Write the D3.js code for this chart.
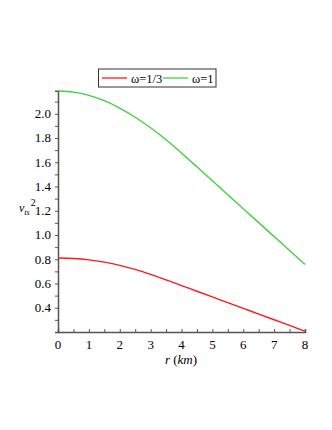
<!DOCTYPE html>
<html>
<head>
<meta charset="utf-8">
<script src="https://cdn.jsdelivr.net/npm/d3@7"></script>
<style>
  body { margin: 0; background: #fff; }
</style>
</head>
<body>
<div id="chart"></div>
<script>
// r values (km)
const radius = [0, 0.5, 1, 1.5, 2, 2.5, 3, 3.5, 4, 4.5, 5, 5.5, 6, 6.5, 7, 7.5, 8];

// v_ts^2 for omega = 1/3
const omegaThird = [0.81, 0.806, 0.795, 0.776, 0.75, 0.716, 0.675, 0.63, 0.583,
    0.536, 0.489, 0.442, 0.395, 0.348, 0.301, 0.254, 0.207];

// v_ts^2 for omega = 1
const omegaOne = [2.187, 2.178, 2.152, 2.108, 2.047, 1.971, 1.884, 1.785, 1.676,
    1.562, 1.447, 1.332, 1.217, 1.102, 0.987, 0.872, 0.757];

const seriesNames = ["ω=1/3", "ω=1"];
const xTicks = [0, 1, 2, 3, 4, 5, 6, 7, 8];
const yTicks = [0.4, 0.6, 0.8, 1.0, 1.2, 1.4, 1.6, 1.8, 2.0];

const W = 332, H = 430;
const LEFT = 58, RIGHT = 305, TOP = 90.7, BOTTOM = 332;
const AXIS_COLOR = "#555";
const COLORS = ["#ff1a1a", "#3fd23f"];
const FONT = "Liberation Serif";

const x = d3.scaleLinear().domain([0, 8]).range([LEFT, RIGHT]);
const y = d3.scaleLinear().domain([0.2, 2.19]).range([BOTTOM, TOP]);

const svg = d3.select("#chart").append("svg")
    .attr("width", W)
    .attr("height", H)
    .attr("font-family", FONT);

// x axis with minor ticks
const xAxis = svg.append("g").attr("transform", `translate(0,${BOTTOM})`);
xAxis.call(d3.axisTop(x).tickValues(d3.range(0, 8.01, 0.5)).tickSize(3).tickFormat(""));
xAxis.select(".domain").attr("stroke", AXIS_COLOR).attr("stroke-width", 1.5);
xAxis.selectAll(".tick line").attr("stroke", AXIS_COLOR);

svg.append("g").selectAll("text")
    .data(xTicks)
    .enter()
    .append("text")
    .attr("x", d => x(d))
    .attr("y", BOTTOM + 17)
    .attr("text-anchor", "middle")
    .attr("font-family", FONT)
    .attr("font-size", 13)
    .text(d => d);

// y axis with minor ticks
const yAxis = svg.append("g").attr("transform", `translate(${LEFT},0)`);
yAxis.call(d3.axisLeft(y).tickValues(d3.range(0.2, 2.15, 0.1)).tickSize(3).tickFormat(""));
yAxis.select(".domain").attr("stroke", AXIS_COLOR).attr("stroke-width", 1.5);
yAxis.selectAll(".tick line").attr("stroke", AXIS_COLOR);

svg.append("g").selectAll("text")
    .data(yTicks)
    .enter()
    .append("text")
    .attr("x", LEFT - 7)
    .attr("y", d => y(d) + 4.5)
    .attr("text-anchor", "end")
    .attr("font-family", FONT)
    .attr("font-size", 13)
    .text(d => d.toFixed(1));

// axis titles
const yTitle = svg.append("text")
    .attr("x", 19)
    .attr("y", 212)
    .attr("font-family", FONT)
    .attr("font-size", 12);
yTitle.append("tspan").attr("font-style", "italic").text("v");
yTitle.append("tspan").attr("font-style", "italic").attr("font-size", 8).attr("dy", 3).text("ts");
yTitle.append("tspan").attr("font-size", 10).attr("dx", 1).attr("dy", -9).text("2");

const xTitle = svg.append("text")
    .attr("x", 181)
    .attr("y", 363.5)
    .attr("text-anchor", "middle")
    .attr("font-family", FONT)
    .attr("font-size", 13);
xTitle.append("tspan").attr("font-style", "italic").text("r");
xTitle.append("tspan").text(" (");
xTitle.append("tspan").attr("font-style", "italic").text("km");
xTitle.append("tspan").text(")");

// curves
const line = d3.line()
    .x((d, i) => x(radius[i]))
    .y(d => y(d))
    .curve(d3.curveMonotoneX);

[omegaThird, omegaOne].forEach((vals, k) => {
    svg.append("path")
        .attr("d", line(vals))
        .attr("fill", "none")
        .attr("stroke", COLORS[k])
        .attr("stroke-width", 1.4);
});

// legend
const legend = svg.append("g");
legend.append("rect")
    .attr("x", 98.5)
    .attr("y", 69)
    .attr("width", 117.5)
    .attr("height", 18)
    .attr("fill", "#fff")
    .attr("stroke", "#333")
    .attr("stroke-width", 1);

const legendPos = [{ lx: 102, tx: 131 }, { lx: 163, tx: 192 }];
seriesNames.forEach((name, k) => {
    legend.append("line")
        .attr("x1", legendPos[k].lx)
        .attr("x2", legendPos[k].lx + 25)
        .attr("y1", 78)
        .attr("y2", 78)
        .attr("stroke", COLORS[k])
        .attr("stroke-width", 1.3);
    legend.append("text")
        .attr("x", legendPos[k].tx)
        .attr("y", 82.5)
        .attr("font-family", FONT)
        .attr("font-size", 12.5)
        .text(name);
});
</script>
</body>
</html>
